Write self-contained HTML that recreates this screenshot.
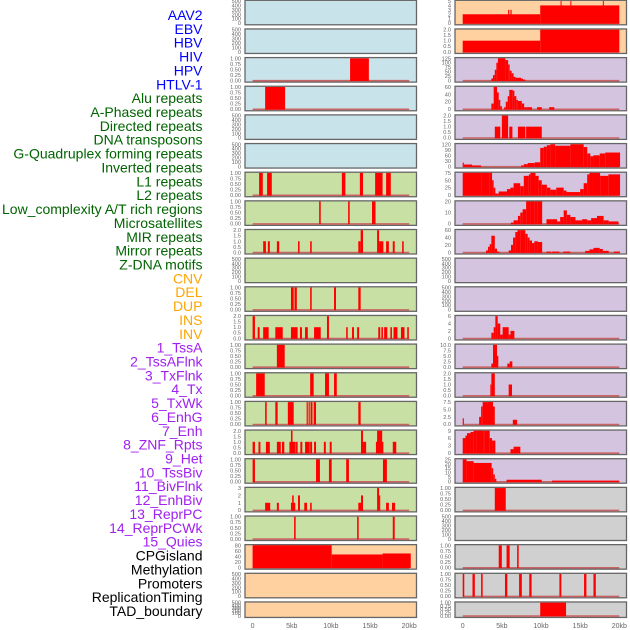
<!DOCTYPE html>
<html><head><meta charset="utf-8"><style>
html,body{margin:0;padding:0;background:#fff;width:630px;height:630px;overflow:hidden}
svg{display:block}
</style></head><body>
<svg id="chart" width="630" height="630" viewBox="0 0 630 630" xmlns="http://www.w3.org/2000/svg"></svg>
<script>
const rowLabels = ["AAV2","EBV","HBV","HIV","HPV","HTLV-1","Alu repeats","A-Phased repeats","Directed repeats","DNA transposons","G-Quadruplex forming repeats","Inverted repeats","L1 repeats","L2 repeats","Low_complexity A/T rich regions","Microsatellites","MIR repeats","Mirror repeats","Z-DNA motifs","CNV","DEL","DUP","INS","INV","1_TssA","2_TssAFlnk","3_TxFlnk","4_Tx","5_TxWk","6_EnhG","7_Enh","8_ZNF_Rpts","9_Het","10_TssBiv","11_BivFlnk","12_EnhBiv","13_ReprPC","14_ReprPCWk","15_Quies","CPGisland","Methylation","Promoters","ReplicationTiming","TAD_boundary"];
const groupSizes = [6,13,5,15,5];
const groupColors = ["#0000ff","#006400","#ffa500","#a020f0","#000000"];
const xTickValues = [0,5,10,15,20];
const xTickLabels = ["0","5kb","10kb","15kb","20kb"];

const T500=["500","400","300","200","100","0"], T1=["1.00","0.75","0.50","0.25","0.00"], T2=["2.0","1.5","1.0","0.5","0.0"];
const leftTicks = [T500,T500,T1,T1,T500,T500,T1,T1,T2,T500,T1,T2,T1,T1,T1,T2,T1,["3","2","1","0"],T1,["80","60","40","20","0"],T500,T500];
const rightTicks = [["5","4","3","2","1","0"],T2,["125","100","75","50","25","0"],["60","40","20","0"],T2,["120","90","60","30","0"],["75","50","25","0"],["20","10","0"],["60","40","20","0"],T500,T500,["6","4","2","0"],["10.0","7.5","5.0","2.5","0.0"],T2,["7.5","5.0","2.5","0.0"],["9","6","3","0"],["25","20","15","10","5","0"],T1,T500,T1,T1,T1];
const leftMax = [500,500,1,1,500,500,1,1,2,500,1,2,1,1,1,2,1,3,1,80,500,500];
const rightMax = [5,2,125,60,2,120,75,20,60,500,500,6,10,2,7.5,9,25,1,500,1,1,1];
const leftBg = ["#c8e3ea","#c8e3ea","#c8e3ea","#c8e3ea","#c8e3ea","#c8e3ea","#c8e0a4","#c8e0a4","#c8e0a4","#c8e0a4","#c8e0a4","#c8e0a4","#c8e0a4","#c8e0a4","#c8e0a4","#c8e0a4","#c8e0a4","#c8e0a4","#c8e0a4","#ffd0a0","#ffd0a0","#ffd0a0"];
const rightBg = ["#ffd0a0","#ffd0a0","#d4c4e0","#d4c4e0","#d4c4e0","#d4c4e0","#d4c4e0","#d4c4e0","#d4c4e0","#d4c4e0","#d4c4e0","#d4c4e0","#d4c4e0","#d4c4e0","#d4c4e0","#d4c4e0","#d4c4e0","#d0d0d0","#d0d0d0","#d0d0d0","#d0d0d0","#d0d0d0"];

// segments: [startKb, endKb, value]
const L1=[],L2=[],L5=[],L6=[],L10=[],L21=[],L22=[];
const L3=[[12.45,14.85,1]];
const L4=[[1.6,4.15,1]];
const L7=[[0.83,1.3,1],[1.85,2.45,1],[11.4,11.85,1],[13.7,14.1,1],[15.65,16.6,1],[17.05,17.65,1]];
const L8=[[8.5,8.7,1],[12.2,12.4,1],[15.25,15.7,1]];
const L9=[[1.35,1.7,1],[1.95,2.2,1],[3.1,3.4,1],[5.8,6.0,1],[7.35,7.55,1],[13.5,13.8,1],[13.8,14.1,2],[15.9,16.15,2],[16.15,16.7,1],[17.05,17.4,1],[17.9,18.15,1],[19.1,19.3,1]];
const L11=[[4.9,5.25,1],[5.35,5.65,1],[7.35,7.55,1],[10.4,10.65,1],[13.5,13.8,1]];
const L12=[[0.0,0.3,2],[9.5,9.75,2],[0.65,0.9,1],[1.35,2.05,1],[2.9,3.85,1],[4.9,5.75,1],[6.05,6.3,1],[6.7,7.05,1],[7.85,8.7,1],[11.95,12.15,1],[12.7,12.95,1],[13.35,13.6,1],[16.05,16.3,1],[16.45,16.65,1],[16.8,17.2,1],[17.6,17.8,1],[18.0,18.5,1],[18.95,19.4,1],[19.75,19.95,1]];
const L13=[[3.1,4.1,1]];
const L14=[[0.45,1.55,1],[7.35,7.8,1],[9.25,9.75,1],[10.4,10.75,1]];
const L15=[[1.6,1.8,1],[2.9,3.2,1],[4.5,5.25,1],[6.9,7.05,1],[7.15,7.3,1],[7.4,7.65,1],[7.8,8.1,1],[13.5,13.8,1]];
const L16=[[4.9,5.1,2],[13.85,14.1,2],[15.9,16.55,2],[0.0,0.3,1],[0.75,1.0,1],[1.7,2.2,1],[3.1,3.6,1],[3.75,4.05,1],[4.7,5.5,1],[5.55,5.75,1],[6.1,6.35,1],[6.7,7.3,1],[7.35,7.6,1],[7.85,8.1,1],[9.1,9.35,1],[9.85,10.1,1],[13.85,14.5,1],[15.75,16.7,1],[17.9,18.35,1]];
const L17=[[0.0,0.3,1],[8.1,8.6,1],[9.75,10.1,1],[11.95,12.3,1],[16.65,17.15,1]];
const L18=[[1.6,2.25,1],[3.1,3.35,1],[4.9,5.45,1],[5.05,5.25,2],[5.8,6.05,2],[6.6,6.95,1],[7.35,7.55,1],[13.5,14.1,1],[13.85,14.1,2],[15.9,16.15,3],[16.15,16.3,2],[17.05,17.4,1],[17.8,18.2,1]];
const L19=[[5.3,5.5,1],[13.35,13.55,1],[17.9,18.15,1]];
const L20=[[0,10.1,83],[10.1,16.6,47],[16.6,20.2,50.6]];

const R1=[[0,9.9,2],[5.8,5.95,3],[6.1,6.25,3],[9.9,20,4],[12.5,12.62,5.5],[13.75,13.87,5.5],[17.9,18.02,5.5]];
const R2=[[0,9.9,1],[9.9,20,2]];
const R3=[[3.66,3.87,11],[3.87,4.1,30],[4.1,4.3,60],[4.3,4.5,100],[4.5,4.7,125],[4.7,5.45,128],[5.45,5.8,115],[5.8,6.0,90],[6.0,6.25,55],[6.25,6.5,40],[6.5,6.77,20],[6.77,7.45,15],[7.45,7.7,10],[7.7,8.0,5]];
const R4=[[3.66,3.96,15],[3.96,4.38,70],[4.38,4.6,45],[4.6,4.8,25],[4.8,5.0,8],[5.3,5.5,5],[5.5,5.75,20],[5.75,5.95,35],[5.95,6.4,52],[6.4,6.6,50],[6.6,6.85,35],[6.85,7.05,25],[7.05,7.55,22],[7.55,7.85,15],[7.85,8.1,5],[8.1,8.85,5],[9.5,10.1,5],[11.05,11.7,5]];
const R5=[[4.1,4.8,1],[5.0,5.8,2],[5.95,6.35,1],[7.05,8.0,1],[8.1,10.1,1]];
const R6=[[0,0.15,20],[0.15,1.2,10],[1.2,2.35,5],[7.45,7.8,5],[7.8,8.3,12],[8.3,9.2,18],[9.2,9.9,22],[9.9,10.35,100],[10.35,10.75,107],[10.75,11.2,115],[11.2,11.8,120],[11.8,13.75,112],[13.75,15.45,120],[15.45,15.9,105],[15.9,16.3,70],[16.3,16.7,55],[16.7,17.5,60],[17.5,18.2,70],[18.2,20.1,75]];
const R7=[[0,2.45,97],[2.45,3.4,90],[3.4,3.75,80],[3.75,3.95,50],[3.95,4.17,25],[4.17,4.6,5],[4.6,5.65,12],[5.65,6.1,20],[6.1,6.5,25],[6.5,7.35,40],[7.35,7.8,30],[7.8,8.45,65],[8.45,8.65,70],[8.65,9.3,75],[9.3,9.7,65],[9.7,10.1,50],[10.1,10.75,35],[10.75,11.2,25],[11.2,11.95,18],[11.95,12.9,25],[12.9,13.25,15],[13.25,15.0,10],[15.0,15.45,20],[15.45,15.9,40],[15.9,16.2,70],[16.2,16.7,80],[16.7,17.55,75],[17.55,18.6,65],[18.6,20.1,70]];
const R8=[[6.15,6.5,1],[6.5,7.05,3],[7.05,7.35,7],[7.35,7.65,10],[7.65,8.1,13],[8.1,8.65,25],[8.65,9.15,21],[9.15,9.6,25],[9.6,10.15,30],[10.7,11.4,4],[11.4,12.05,4],[12.05,12.45,2],[12.45,12.9,6],[12.9,13.3,12],[13.3,13.75,8],[13.75,14.4,6],[14.4,15.25,3],[15.25,15.9,4],[15.9,16.4,3],[16.4,17.15,5],[17.15,18.0,7],[18.0,18.65,3],[18.65,19.9,2]];
const R9=[[2.98,3.23,5],[3.23,3.45,15],[3.45,3.66,22],[3.66,4.1,45],[4.1,4.38,10],[4.38,4.7,2],[5.87,6.17,5],[6.17,6.43,20],[6.43,6.72,40],[6.72,7.0,55],[7.0,7.36,62],[7.36,8.0,65],[8.0,8.3,50],[8.3,8.55,40],[8.55,8.85,32],[8.85,9.15,25],[9.15,9.6,30],[9.6,10.15,28],[10.7,11.3,2],[11.4,12.35,2],[12.85,13.75,2],[15.65,16.2,4],[16.2,16.7,8],[16.7,17.5,12],[17.5,17.9,9],[17.9,18.65,4],[19.3,20.1,2]];
const R10=[],R11=[],R19=[];
const R12=[[3.66,3.96,1.5],[3.96,4.17,3],[4.17,4.47,6],[4.47,4.8,4],[4.8,5.1,1],[5.1,5.87,3],[5.87,6.1,1],[6.1,6.6,2]];
const R13=[[3.66,3.87,1.5],[3.87,4.38,10],[4.38,4.55,5],[5.7,6.0,1.5],[6.0,6.34,2.5]];
const R14=[[3.53,3.66,1],[3.66,4.1,2],[5.87,6.3,1]];
const R15=[[0,0.15,2],[2.1,2.35,2.5],[2.35,2.55,6],[2.55,3.23,7.5],[3.23,3.87,9],[3.87,4.1,6],[6.4,6.95,1.5]];
const R16=[[0,0.35,6],[0.35,0.55,7],[0.55,1.0,8],[1.0,1.4,8.5],[1.4,1.75,9.5],[1.75,2.6,10],[2.6,2.8,9.5],[2.8,3.45,9],[3.45,3.75,6],[3.75,4.17,5],[6.1,6.5,1.5],[6.5,7.36,2.5]];
const R17=[[0,0.5,26],[0.5,1.4,23],[1.4,3.7,21],[3.7,3.9,15],[3.9,4.1,8],[4.1,4.3,3],[5.6,10.1,2],[11.4,20,1]];
const R18=[[4.1,5.5,1]];
const R20=[[4.6,5.0,1],[5.6,6.0,1],[6.95,7.15,1]];
const R21=[[0,0.2,1],[1.25,1.55,1],[2.35,2.55,1],[5.4,5.7,1],[7.2,7.55,1],[8.5,8.8,1],[12.35,12.6,1],[15.5,15.8,1],[16.7,17.0,1]];
const R22=[[9.9,13.2,1]];

const leftSegs=[L1,L2,L3,L4,L5,L6,L7,L8,L9,L10,L11,L12,L13,L14,L15,L16,L17,L18,L19,L20,L21,L22];
const rightSegs=[R1,R2,R3,R4,R5,R6,R7,R8,R9,R10,R11,R12,R13,R14,R15,R16,R17,R18,R19,R20,R21,R22];

const NS="http://www.w3.org/2000/svg";
const svg=document.getElementById('chart');
function mk(tag,attrs,parent){const e=document.createElementNS(NS,tag);for(const k in attrs)e.setAttribute(k,attrs[k]);(parent||svg).appendChild(e);return e;}

// row labels
let gi=0,cnt=0;
rowLabels.forEach((lab,i)=>{
  while(cnt>=groupSizes[gi]){gi++;cnt=0;}
  cnt++;
  const t=mk('text',{x:202.5,y:15+i*13.86+5,'text-anchor':'end','font-family':'Liberation Sans, sans-serif','font-size':'14',fill:groupColors[gi]});
  t.textContent=lab;
  
  
});

function rowTop(i){return 0.3+i*28.65;}
function rowH(i){return i===21?15.5:24.5;}

function drawPanel(side,i,segs,ticks,ymax,bg){
  const px0 = side==='left'?245:455, pw=171.5;
  const xz = side==='left'?252.6:462.7, kpx=7.83;
  const top=rowTop(i), h=rowH(i);
  const y0=top+h-1.7, y1=top+0.7;
  const xs=k=>xz+k*kpx;
  const ys=v=>y0-(Math.min(v,ymax*1.05))/ymax*(y0-y1);
  const g=mk('g',{});
  
  
  mk('rect',{x:px0,y:top,width:pw,height:h,fill:bg,stroke:'#666',"stroke-width":1.3},g);
  // y ticks
  const n=ticks.length;
  ticks.forEach((lab,j)=>{
    const v=ymax*(1-j/(n-1));
    const t=mk('text',{x:px0-4,y:ys(v)+2,'text-anchor':'end','font-family':'Liberation Sans, sans-serif','font-size':'5.6',fill:'#666'},g);
    t.textContent=lab;
    
    
  });
  if(segs.length){
    mk('line',{x1:xs(0),x2:xs(20),y1:y0+0.3,y2:y0+0.3,stroke:'#c86464','stroke-width':1.6},g);
    segs.forEach(s=>{
      const yt=Math.max(ys(s[2]),top+0.6);
      const r=mk('rect',{x:xs(s[0]),y:yt,width:Math.max(xs(s[1])-xs(s[0]),1),height:y0-yt+0.6,fill:'#ff0000'},g);
      
      
    });
  }
}
for(let i=0;i<22;i++){
  drawPanel('left',i,leftSegs[i],leftTicks[i],leftMax[i],leftBg[i]);
  drawPanel('right',i,rightSegs[i],rightTicks[i],rightMax[i],rightBg[i]);
}
// x axes
['left','right'].forEach(side=>{
  const xz=side==='left'?252.6:462.7;
  xTickValues.forEach((v,j)=>{
    const t=mk('text',{x:xz+v*7.83,y:628,'text-anchor':'middle','font-family':'Liberation Sans, sans-serif','font-size':'7',fill:'#666'});
    t.textContent=xTickLabels[j];
    
    
  });
});
</script>
</body></html>
